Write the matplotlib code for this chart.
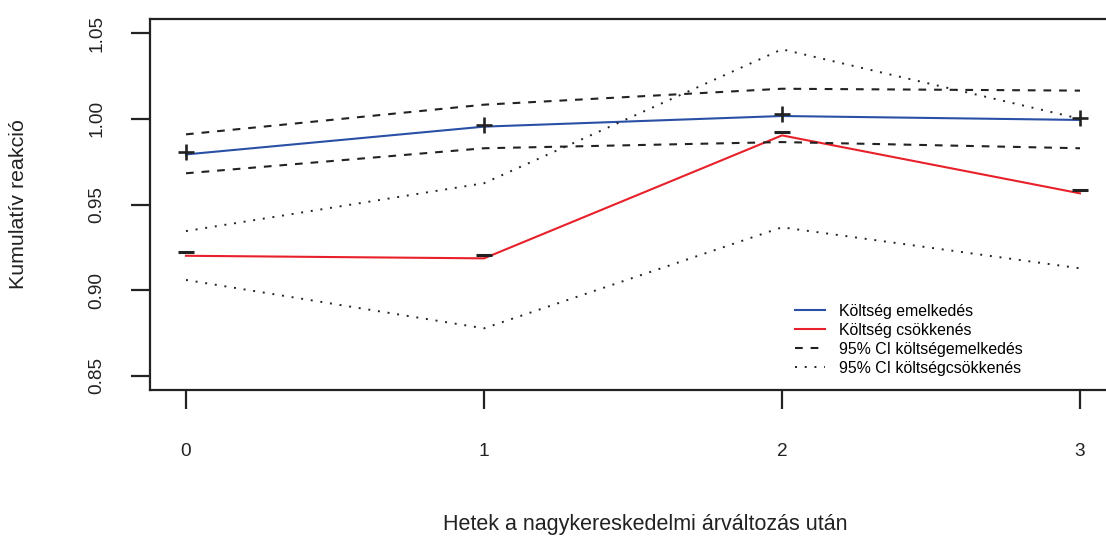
import matplotlib

matplotlib.use("Agg")
import matplotlib.pyplot as plt
from matplotlib.transforms import ScaledTranslation

plt.rcParams["font.family"] = ["Liberation Sans", "DejaVu Sans"]

weeks = [0, 1, 2, 3]
cost_up = [0.9792, 0.9954, 1.0016, 0.9993]
cost_down = [0.9201, 0.9186, 0.9903, 0.9565]
ci_up_hi = [0.9909, 1.0082, 1.0175, 1.0164]
ci_up_lo = [0.9682, 0.9828, 0.9864, 0.9828]
ci_down_hi = [0.9345, 0.9624, 1.0405, 1.0000]
ci_down_lo = [0.9060, 0.8778, 0.9367, 0.9128]
y_ticks = [0.85, 0.90, 0.95, 1.00, 1.05]

ink = "#222222"
lw = 1.5

fig = plt.figure(figsize=(11.06, 5.39), dpi=100)
# plot region runs past the right edge, like the original device
ax = fig.add_axes([150 / 1106, 149 / 539, 990 / 1106, 371 / 539])

ax.plot(weeks, cost_up, color="#2a50a6", lw=lw, label="Költség emelkedés")
ax.plot(weeks, cost_down, color="#e8202a", lw=lw, label="Költség csökkenés")
ax.plot(weeks, ci_up_hi, color=ink, lw=lw, dashes=(3.7, 3.8),
        label="95% CI költségemelkedés")
ax.plot(weeks, ci_up_lo, color=ink, lw=lw, dashes=(3.7, 3.8))
ax.plot(weeks, ci_down_hi, color=ink, lw=1.4, dashes=(1.0, 4.0),
        label="95% CI költségcsökkenés")
ax.plot(weeks, ci_down_lo, color=ink, lw=1.4, dashes=(1.0, 4.0))

# "+" / "-" symbols sit a little above the points, as character glyphs do
up_shift = ax.transData + ScaledTranslation(0, 2 / 100, fig.dpi_scale_trans)
down_shift = ax.transData + ScaledTranslation(0, 3.5 / 100, fig.dpi_scale_trans)
ax.plot(weeks, cost_up, ls="none", marker="+", ms=11.5, mew=1.9, color=ink,
        transform=up_shift)
ax.plot(weeks, cost_down, ls="none", marker="_", ms=11.5, mew=2.2, color=ink,
        transform=down_shift)

ax.set_xlim(-36 / 298, (1140 - 186) / 298)
ax.set_ylim(0.85 - 14 / 1715, 1.05 + 14 / 1715)

ax.spines["right"].set_visible(False)
for side in ("left", "top", "bottom"):
    ax.spines[side].set_color(ink)
    ax.spines[side].set_linewidth(1.6)

ax.set_xticks(weeks)
ax.set_xticklabels([str(w) for w in weeks])
ax.set_yticks(y_ticks)
ax.set_yticklabels([f"{v:.2f}" for v in y_ticks], rotation=90, va="center")
ax.tick_params(axis="both", length=14, width=1.6, color=ink,
               labelsize=13.7, labelcolor=ink)
ax.tick_params(axis="x", pad=24.5)
ax.tick_params(axis="y", pad=18)

ax.set_xlabel("Hetek a nagykereskedelmi árváltozás után", fontsize=15.5,
              color=ink)
ax.xaxis.set_label_coords(0.5, -0.333)
ax.set_ylabel("Kumulatív reakció", fontsize=15.4, color=ink)
ax.yaxis.set_label_coords(-0.1232, 0.5)

ax.legend(loc="upper left", bbox_to_anchor=(795 / 1106, 1 - 304 / 539),
          bbox_transform=fig.transFigure, frameon=False, fontsize=11.4,
          borderpad=0, borderaxespad=0, handlelength=1.9,
          handletextpad=0.88, labelspacing=0.25)

fig.savefig("out.png", dpi=100)
